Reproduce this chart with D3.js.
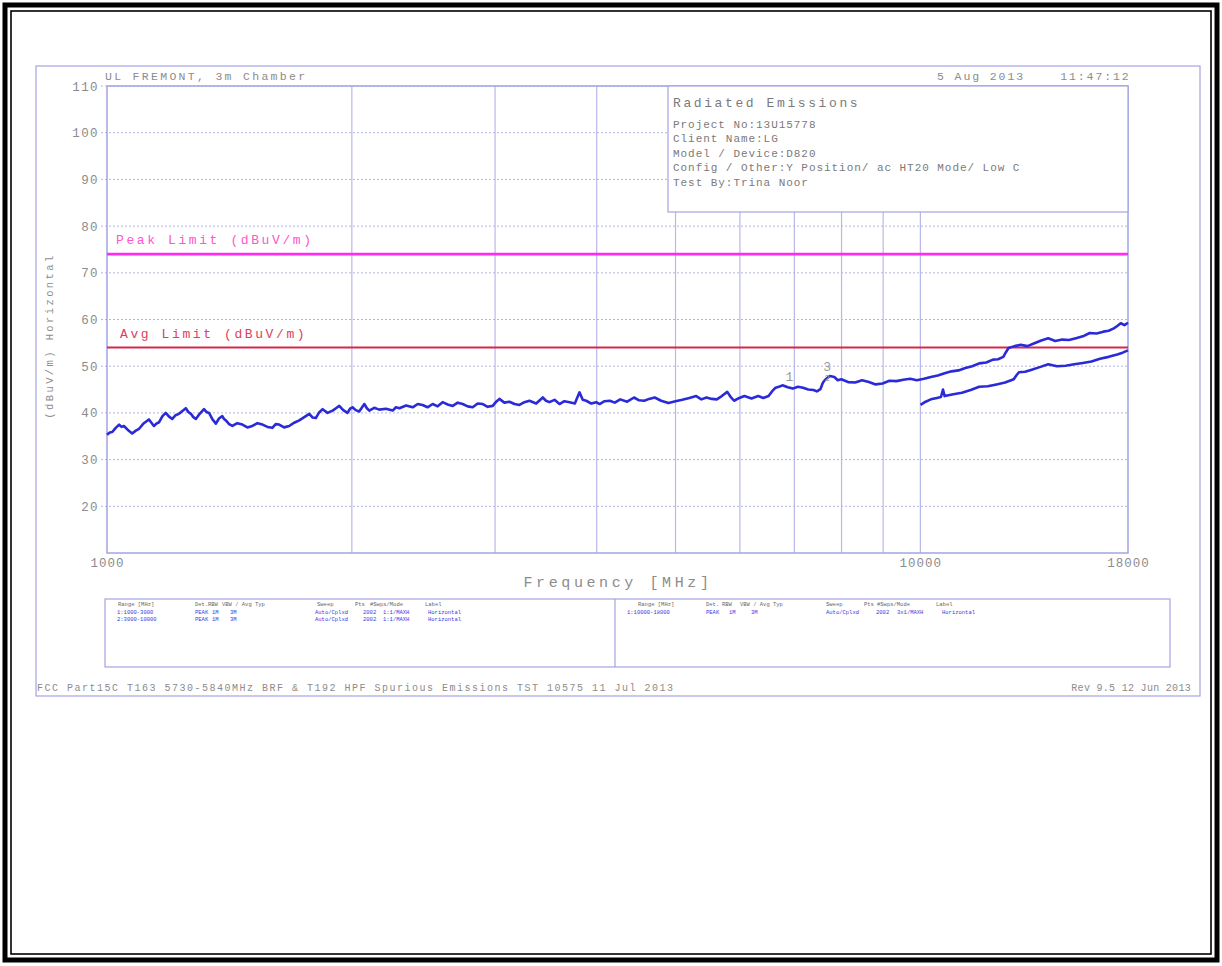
<!DOCTYPE html>
<html>
<head>
<meta charset="utf-8">
<script src="https://cdn.jsdelivr.net/npm/d3@7"></script>
<style>
  body { margin: 0; background: #fff; }
  svg { display: block; }
  text { font-family: "Liberation Mono", "DejaVu Sans Mono", monospace; }
</style>
</head>
<body>
<svg id="chart" width="1222" height="966"></svg>
<script>
// ---------------- data ----------------
const headerLeft = "UL FREMONT, 3m Chamber";
const headerRight = "5 Aug 2013    11:47:12";
const infoTitle = "Radiated Emissions";
const infoLines = [
  "Project No:13U15778",
  "Client Name:LG",
  "Model / Device:D820",
  "Config / Other:Y Position/ ac HT20 Mode/ Low C",
  "Test By:Trina Noor"
];
const yTickValues = [20, 30, 40, 50, 60, 70, 80, 90, 100, 110];
const xGridValues = [2000, 3000, 4000, 5000, 6000, 7000, 8000, 9000, 10000];
const xLabelValues = [1000, 10000, 18000];
const limits = [
  { name: "Peak Limit (dBuV/m)", value: 74 },
  { name: "Avg Limit (dBuV/m)", value: 54 }
];
// trace 1: 1000-18000 MHz, [MHz, dBuV/m]
const trace1 = [
  [1000,35.3],[1008,35.8],[1015,35.9],[1025,36.8],[1035,37.5],[1042,37.0],[1049,37.2],[1060,36.4],[1074,35.6],[1085,36.2],
  [1095,36.6],[1110,37.8],[1126,38.6],[1134,37.9],[1142,37.2],[1150,37.7],[1159,38.0],[1170,39.3],[1181,40.0],[1192,39.2],
  [1203,38.7],[1214,39.5],[1226,39.8],[1238,40.4],[1250,41.0],[1259,40.2],[1268,39.8],[1277,39.1],[1286,38.7],[1300,39.8],
  [1316,40.8],[1325,40.2],[1335,40.0],[1348,38.6],[1361,37.7],[1373,38.8],[1386,39.3],[1393,38.7],[1400,38.4],[1413,37.6],
  [1426,37.2],[1446,37.8],[1467,37.5],[1488,36.9],[1509,37.2],[1531,37.8],[1553,37.5],[1575,37.0],[1597,36.8],[1612,37.6],
  [1628,37.5],[1651,36.9],[1675,37.2],[1699,37.9],[1723,38.4],[1748,39.1],[1773,39.8],[1790,39.0],[1806,38.9],[1823,40.1],
  [1841,40.8],[1867,40.0],[1894,40.5],[1912,41.0],[1930,41.5],[1952,40.6],[1975,40.0],[1990,40.9],[2004,41.2],[2022,40.6],
  [2042,40.3],[2057,41.1],[2072,41.9],[2087,41.0],[2101,40.5],[2131,41.1],[2161,40.7],[2203,40.9],[2245,40.5],[2266,41.2],
  [2288,41.0],[2332,41.6],[2376,41.2],[2410,41.9],[2443,41.7],[2478,41.2],[2514,41.9],[2550,41.4],[2586,42.3],[2623,41.8],
  [2661,41.5],[2699,42.2],[2737,41.9],[2776,41.4],[2816,41.2],[2856,42.0],[2897,41.9],[2938,41.3],[2980,41.5],[3010,42.4],
  [3037,43.0],[3080,42.2],[3124,42.4],[3170,41.9],[3214,41.7],[3260,42.3],[3306,42.6],[3370,42.0],[3434,43.3],[3465,42.6],
  [3499,42.3],[3550,42.8],[3600,41.9],[3650,42.5],[3704,42.3],[3760,42.0],[3810,44.4],[3845,42.8],[3883,42.6],[3940,42.0],
  [3995,42.3],[4033,41.9],[4090,42.5],[4151,42.6],[4210,42.2],[4276,42.9],[4360,42.4],[4446,43.3],[4510,42.7],[4577,42.6],
  [4640,43.0],[4714,43.3],[4800,42.6],[4901,42.1],[5000,42.5],[5097,42.8],[5200,43.2],[5301,43.6],[5380,42.9],[5458,43.3],
  [5540,43.0],[5620,42.9],[5700,43.6],[5789,44.5],[5840,43.5],[5902,42.6],[5990,43.2],[6077,43.6],[6200,43.1],[6318,43.6],
  [6410,43.2],[6507,43.6],[6570,44.6],[6637,45.4],[6700,45.6],[6768,45.9],[6870,45.5],[6968,45.2],[7070,45.6],[7175,45.4],
  [7280,45.0],[7390,44.9],[7460,44.6],[7537,45.1],[7590,46.5],[7648,47.2],[7740,47.9],[7838,47.7],[7915,47.0],[7993,47.2],
  [8150,46.6],[8312,46.5],[8480,47.0],[8644,46.6],[8810,46.1],[8985,46.3],[9160,46.9],[9344,46.8],[9530,47.1],[9714,47.3],
  [9900,47.0],[10102,47.3],[10300,47.7],[10505,48.0],[10710,48.5],[10922,48.9],[11140,49.1],[11357,49.6],[11580,50.0],[11812,50.6],
  [12050,50.8],[12283,51.4],[12460,51.5],[12647,52.0],[12740,53.0],[12835,53.9],[13060,54.3],[13282,54.6],[13540,54.3],[13809,54.9],
  [14080,55.5],[14360,56.0],[14650,55.4],[14940,55.7],[15230,55.6],[15534,56.0],[15840,56.4],[16153,57.1],[16470,57.0],[16788,57.4],
  [17040,57.6],[17292,58.1],[17460,58.6],[17635,59.2],[17820,58.8],[18000,59.3]
];
// trace 2: 10000-18000 MHz
const trace2 = [
  [10005,41.7],[10150,42.4],[10301,42.9],[10480,43.2],[10600,43.4],[10661,45.0],[10711,43.6],[10980,44.0],[11248,44.3],[11530,44.9],
  [11812,45.6],[12100,45.7],[12405,46.1],[12710,46.5],[13025,47.2],[13120,48.0],[13218,48.7],[13450,48.8],[13677,49.2],[14020,49.8],
  [14360,50.4],[14720,50.0],[15084,50.1],[15460,50.4],[15840,50.7],[16230,51.0],[16628,51.6],[17040,52.0],[17460,52.5],[17730,52.9],
  [18000,53.4]
];
const markers = [
  { label: "1", freq: 6900, level: 45.5 },
  { label: "3", freq: 7680, level: 47.6 }
];
const legendHeader = ["Range [MHz]", "Det.", "RBW", "VBW / Avg Typ", "Sweep", "Pts", "#Swps/Mode", "Label"];
const legendRowsLeft = [
  ["1:1000-3000", "PEAK", "1M", "3M", "Auto/Cplxd", "2002", "1:1/MAXH", "Horizontal"],
  ["2:3000-10000", "PEAK", "1M", "3M", "Auto/Cplxd", "2002", "1:1/MAXH", "Horizontal"]
];
const legendRowsRight = [
  ["1:10000-18000", "PEAK", "1M", "3M", "Auto/Cplxd", "2002", "3x1/MAXH", "Horizontal"]
];
const footerLeft = "FCC Part15C T163 5730-5840MHz BRF & T192 HPF Spurious Emissions TST 10575 11 Jul 2013";
const footerRight = "Rev 9.5 12 Jun 2013";

// ---------------- drawing ----------------
const svg = d3.select("#chart");
const frameCol = "#a4a4e4";
const textCol = "#8c8c8c";

// outer double black border
svg.append("rect").attr("x", 5).attr("y", 5).attr("width", 1212).attr("height", 955)
  .attr("fill", "none").attr("stroke", "#000").attr("stroke-width", 5);
svg.append("rect").attr("x", 11).attr("y", 11).attr("width", 1200).attr("height", 943)
  .attr("fill", "none").attr("stroke", "#000").attr("stroke-width", 1.6);

// chart frame
svg.append("rect").attr("x", 36).attr("y", 66).attr("width", 1164).attr("height", 630)
  .attr("fill", "none").attr("stroke", frameCol).attr("stroke-width", 1.2);

const L = 107, R = 1128, T = 86, B = 553;
const x = d3.scaleLog().domain([1000, 18000]).range([L, R]);
const y = d3.scaleLinear().domain([10, 110]).range([B, T]);

// horizontal grid (dotted)
svg.append("g").selectAll("line").data(yTickValues).join("line")
  .attr("x1", L - 6).attr("x2", R).attr("y1", d => y(d)).attr("y2", d => y(d))
  .attr("stroke", "#b4b4e0").attr("stroke-width", 1).attr("stroke-dasharray", "2,2");

// vertical grid (solid)
svg.append("g").selectAll("line").data(xGridValues).join("line")
  .attr("x1", d => x(d)).attr("x2", d => x(d)).attr("y1", T).attr("y2", B)
  .attr("stroke", "#b8b8ea").attr("stroke-width", 1.2);

// plot frame
svg.append("rect").attr("x", L).attr("y", T).attr("width", R - L).attr("height", B - T)
  .attr("fill", "none").attr("stroke", frameCol).attr("stroke-width", 1.5);

// info box (opaque)
const ib = svg.append("g");
ib.append("rect").attr("x", 668).attr("y", T).attr("width", R - 668).attr("height", 126)
  .attr("fill", "#fff").attr("stroke", frameCol).attr("stroke-width", 1.2);
ib.append("text").attr("x", 673).attr("y", 107).text(infoTitle)
  .attr("font-size", 13).attr("letter-spacing", 2.6).attr("fill", "#7a7a7a");
ib.selectAll("text.il").data(infoLines).join("text").attr("class", "il")
  .attr("x", 673).attr("y", (d, i) => 128 + i * 14.4).text(d => d)
  .attr("font-size", 11).attr("letter-spacing", 0.95).attr("fill", "#7a7a7a");

// y axis labels
const yAxis = d3.axisLeft(y).tickValues(yTickValues).tickSize(0).tickPadding(6).tickFormat(d3.format("d"));
const ga = svg.append("g").attr("transform", `translate(${L - 2},0)`).call(yAxis);
ga.select(".domain").remove();
ga.selectAll("text").attr("font-family", "Liberation Mono, monospace").attr("font-size", 12.5)
  .attr("letter-spacing", 1.4).attr("fill", textCol);

// x axis labels
const xAxis = d3.axisBottom(x).tickValues(xLabelValues).tickSize(0).tickPadding(5).tickFormat(d3.format("d"));
const gx = svg.append("g").attr("transform", `translate(0,${B})`).call(xAxis);
gx.select(".domain").remove();
gx.selectAll("text").attr("font-family", "Liberation Mono, monospace").attr("font-size", 12.5)
  .attr("letter-spacing", 1.0).attr("fill", textCol);

// axis titles
svg.append("text").attr("x", 618).attr("y", 587).attr("text-anchor", "middle")
  .text("Frequency [MHz]").attr("font-size", 15).attr("letter-spacing", 3.6).attr("fill", textCol);
svg.append("text").attr("transform", "translate(53,336) rotate(-90)").attr("text-anchor", "middle")
  .text("(dBuV/m) Horizontal").attr("font-size", 10.5).attr("letter-spacing", 2.4).attr("fill", textCol);

// header
svg.append("text").attr("x", 105).attr("y", 80).text(headerLeft)
  .attr("font-size", 11.5).attr("letter-spacing", 2.3).attr("fill", textCol);
svg.append("text").attr("x", 937).attr("y", 80).text(headerRight)
  .attr("font-size", 11.5).attr("letter-spacing", 1.9).attr("fill", textCol).style("white-space", "pre");

// limit lines
const limCols = ["#ff2cf0", "#d6284c"];
const limTextCols = ["#ff55cc", "#e0405a"];
svg.append("g").selectAll("line").data(limits).join("line")
  .attr("x1", L).attr("x2", R).attr("y1", d => y(d.value)).attr("y2", d => y(d.value))
  .attr("stroke", (d, i) => limCols[i]).attr("stroke-width", (d, i) => i === 0 ? 2.6 : 2.2);
svg.append("g").selectAll("text").data(limits).join("text")
  .attr("x", (d, i) => i === 0 ? 116 : 120).attr("y", d => y(d.value) - 10)
  .text(d => d.name).attr("font-size", 13).attr("letter-spacing", 2.6)
  .attr("fill", (d, i) => limTextCols[i]);

// traces
const line = d3.line().x(d => x(d[0])).y(d => y(d[1]));
[trace1, trace2].forEach(tr => {
  svg.append("path").datum(tr).attr("d", line).attr("fill", "none")
    .attr("stroke", "#2a2ad8").attr("stroke-width", 2.6).attr("stroke-linejoin", "round");
});

// markers
svg.append("g").selectAll("text").data(markers).join("text")
  .attr("x", d => x(d.freq)).attr("y", d => y(d.level) - 6).attr("text-anchor", "middle")
  .text(d => d.label).attr("font-size", 13).attr("fill", "#999");
svg.append("text").attr("x", x(7680)).attr("y", y(47.6) + 4).attr("text-anchor", "middle")
  .text("2").attr("font-size", 9).attr("fill", "#999");

// legend box
const lgY = 599, lgH = 68;
svg.append("rect").attr("x", 105).attr("y", lgY).attr("width", 1065).attr("height", lgH)
  .attr("fill", "none").attr("stroke", frameCol).attr("stroke-width", 1.2);
svg.append("line").attr("x1", 615).attr("x2", 615).attr("y1", lgY).attr("y2", lgY + lgH)
  .attr("stroke", frameCol).attr("stroke-width", 1.2);
const colL = [118, 195, 208, 222, 317, 355, 370, 425];
const colLr = [117, 195, 212, 230, 315, 363, 383, 428];
const colR = [638, 706, 722, 740, 826, 864, 877, 936];
const colRr = [627, 706, 729, 751, 826, 876, 897, 942];
function legendBlock(cols, colsRow, rows) {
  const g = svg.append("g");
  g.selectAll("text.h").data(legendHeader).join("text").attr("class", "h")
    .attr("x", (d, i) => cols[i]).attr("y", 606).text(d => d)
    .attr("font-size", 5.5).attr("fill", "#666");
  rows.forEach((r, ri) => {
    g.selectAll("text.r" + ri).data(r).join("text").attr("class", "r" + ri)
      .attr("x", (d, i) => colsRow[i]).attr("y", 614 + ri * 7).text(d => d)
      .attr("font-size", 5.5).attr("fill", "#3a3ae0");
  });
}
legendBlock(colL, colLr, legendRowsLeft);
legendBlock(colR, colRr, legendRowsRight);

// footer
svg.append("text").attr("x", 37).attr("y", 691).text(footerLeft)
  .attr("font-size", 10).attr("letter-spacing", 1.5).attr("fill", textCol);
svg.append("text").attr("x", 1191).attr("y", 691).attr("text-anchor", "end").text(footerRight)
  .attr("font-size", 10).attr("letter-spacing", 0.3).attr("fill", textCol);
</script>
</body>
</html>
